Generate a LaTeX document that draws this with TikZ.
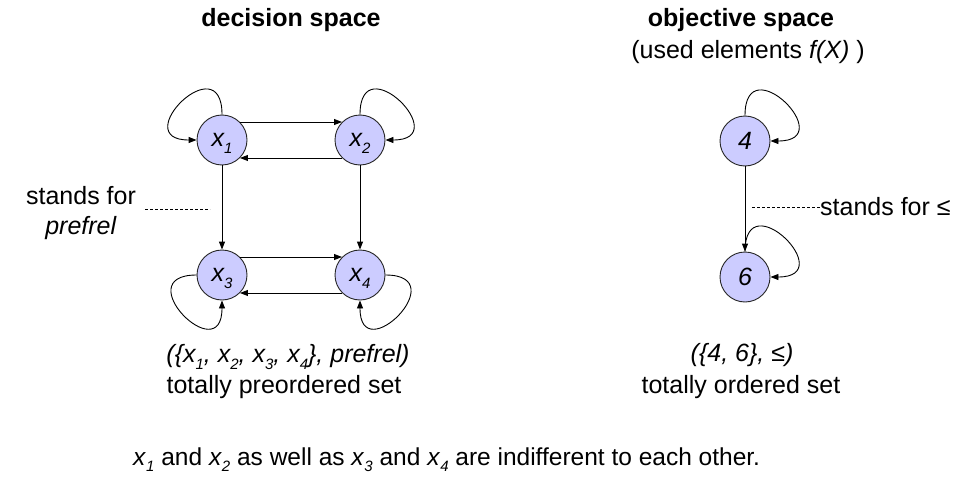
\documentclass[tikz,border=0pt]{standalone}
\usepackage{fontspec}
\setmainfont{Liberation Sans}
\usetikzlibrary{arrows.meta}
\definecolor{lav}{RGB}{204,204,255}
\newcommand\sz{\fontsize{25}{30}\selectfont}
\newcommand\xsub[1]{\textit{x}\raisebox{-0.28em}[0pt][0pt]{\fontsize{15}{18}\selectfont\textit{#1}}}
\begin{document}
\begin{tikzpicture}[x=1pt,y=1pt,font=\sz,
  elem/.style={circle, draw=black!85, line width=0.9pt, fill=lav, minimum size=50pt, inner sep=0pt, font=\sz\itshape},
  rel/.style={-{Triangle[length=8pt,width=6pt]}, line width=0.9pt},
  lbl/.style={anchor=base, inner sep=0pt},
  guide/.style={line width=0.7pt, dash pattern=on 3pt off 2pt}]
\useasboundingbox (0,0) rectangle (980,-487);
% decision space
\node[elem] (x1) at (222,-140) {\xsub{1}};
\node[elem] (x2) at (360,-140) {\xsub{2}};
\node[elem] (x3) at (222,-275) {\xsub{3}};
\node[elem] (x4) at (360,-275) {\xsub{4}};
\draw[rel] (x1.45) -- (x2.135);
\draw[rel] (x2.225) -- (x1.315);
\draw[rel] (x3.45) -- (x4.135);
\draw[rel] (x4.225) -- (x3.315);
\draw[rel] (x1.south) -- (x3.north);
\draw[rel] (x2.south) -- (x4.north);
\draw[rel] (x1.90) .. controls +(90:70) and +(180:70) .. (x1.180);
\draw[rel] (x2.90) .. controls +(90:70) and +(0:70) .. (x2.0);
\draw[rel] (x3.180) .. controls +(180:70) and +(270:70) .. (x3.270);
\draw[rel] (x4.0) .. controls +(0:70) and +(270:70) .. (x4.270);
% objective space
\node[elem] (o4) at (745,-141) {4};
\node[elem] (o6) at (745,-277) {6};
\draw[rel] (o4.south) -- (o6.north);
\draw[rel] (o4.90) .. controls +(90:70) and +(0:70) .. (o4.0);
\draw[rel] (o6.90) .. controls +(90:70) and +(0:70) .. (o6.0);
% titles
\node[lbl,font=\sz\bfseries] (t1) at (291,-27) {decision space};
\node[lbl,font=\sz\bfseries] (t2) at (741,-27) {objective space};
\node[lbl] (t3) at (748,-59) {(used elements \textit{f(X)} )};
% guides
\node[lbl] (sf1) at (81,-204) {stands for};
\node[lbl] (sf2) at (81,-234) {\textit{prefrel}};
\coordinate (gl1) at (145,-209);
\coordinate (gl2) at (210,-209);
\draw[guide] (gl1) -- (gl2);
\node[anchor=west, inner sep=0pt] (sfr) at (820,-207) {stands for ≤};
\coordinate (gr) at (752,-207);
\draw[guide] (gr) -- (sfr.west);
% set labels
\node[lbl] (s1) at (288,-362) {\itshape(\{\xsub{1}, \xsub{2}, \xsub{3}, \xsub{4}\}, prefrel)};
\node[lbl] (s2) at (284,-393) {totally preordered set};
\node[lbl] (r1) at (742,-361) {\itshape(\{4, 6\}, ≤)};
\node[lbl] (r2) at (741,-393) {totally ordered set};
% note
\node[anchor=base west, inner sep=0pt, font=\fontsize{24.5}{29}\selectfont] (note) at (133,-465) {\xsub{1} and \xsub{2} as well as \xsub{3} and \xsub{4} are indifferent to each other.};
\end{tikzpicture}
\end{document}
